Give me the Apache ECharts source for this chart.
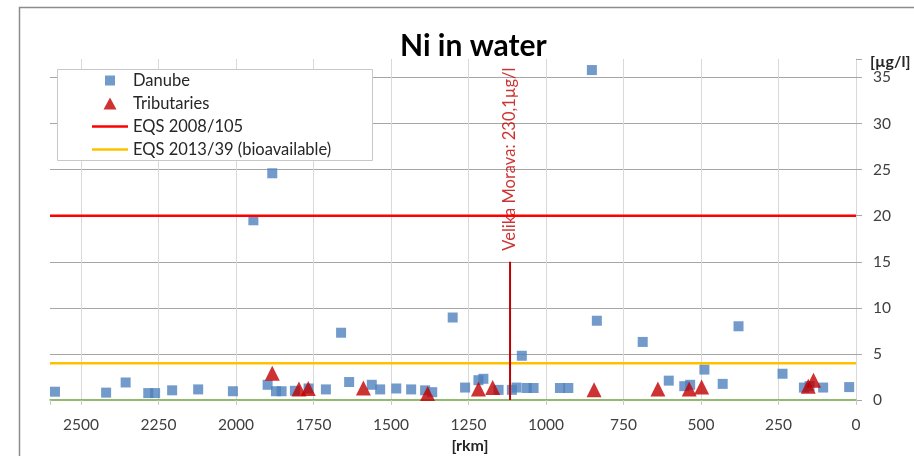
<!DOCTYPE html>
<html>
<head>
  <meta charset="UTF-8">
  <title>Ni in water</title>
  <script src="https://cdn.jsdelivr.net/npm/echarts@6/dist/echarts.min.js"></script>
  <style>
    body { margin: 0; background: #fff; }
    #chart { width: 914px; height: 456px; }
  </style>
</head>
<body>
  <div id="chart"></div>
  <script>
    // Danube samples: [rkm, µg/l]
    const danube = [
      [2584, 0.9], [2419, 0.8], [2356, 1.9], [2283, 0.75], [2261, 0.75],
      [2206, 1.05], [2122, 1.15], [2010, 0.95], [1944, 19.5], [1898, 1.65],
      [1883, 24.6], [1871, 0.95], [1853, 0.95], [1810, 1.0], [1766, 1.25],
      [1710, 1.15], [1661, 7.3], [1635, 1.95], [1562, 1.65], [1535, 1.15],
      [1483, 1.25], [1435, 1.15], [1390, 1.05], [1367, 0.85], [1301, 8.95],
      [1261, 1.35], [1218, 2.15], [1202, 2.3], [1153, 1.1], [1110, 1.1],
      [1095, 1.35], [1078, 4.8], [1062, 1.3], [1040, 1.3], [955, 1.3],
      [928, 1.3], [852, 35.8], [836, 8.6], [688, 6.3], [604, 2.1],
      [554, 1.5], [535, 1.65], [489, 3.3], [430, 1.75], [379, 8.0],
      [237, 2.85], [168, 1.35], [150, 1.5], [106, 1.35], [22, 1.4]
    ];
    // Tributaries: [rkm, µg/l]
    const tributaries = [
      [1883, 2.9], [1797, 1.2], [1767, 1.25], [1589, 1.3], [1382, 0.7],
      [1218, 1.2], [1172, 1.35], [845, 1.1], [639, 1.2], [538, 1.2],
      [498, 1.4], [154, 1.5], [137, 2.15]
    ];
    const eqs2008 = 20;
    const eqs2013 = 4;
    const rkmRange = [0, 2600];
    // Velika Morava mouth, off-scale value shown as a marker line
    const morava = { rkm: 1116, top: 15, text: 'Velika Morava: 230,1µg/l' };

    const font = 'Lato, "Open Sans", sans-serif';
    // legend icons in a 36x12 box (the extra moveTo points fix the box size)
    const iconSquare = 'path://M0,0M36,12M13,1h10v10h-10z';
    const iconTriangle = 'path://M0,0M36,12M11.5,12L18,0L24.5,12z';
    const iconLine = 'path://M0,0M36,12M0,4.75h36v2.5h-36z';

    const chart = echarts.init(document.getElementById('chart'));

    chart.setOption({
      animation: false,
      textStyle: { fontFamily: font },
      title: {
        text: 'Ni in water',
        left: 395, top: 26,
        textStyle: { fontSize: 30, fontWeight: 'bold', color: '#000', fontFamily: font }
      },
      graphic: [
        { type: 'rect', z: -10, shape: { x: 19.5, y: 7.5, width: 1000, height: 1000 },
          style: { fill: 'none', stroke: '#8c8c8c', lineWidth: 1.5 } },
        { type: 'rect', z: 5, shape: { x: 57.5, y: 69.5, width: 315, height: 91 },
          style: { fill: '#fff', stroke: '#c8c8c8', lineWidth: 1 } }
      ],
      legend: {
        orient: 'vertical',
        left: 87, top: 67,
        z: 10,
        itemWidth: 36, itemHeight: 12, itemGap: 6,
        textStyle: { fontSize: 16.5, color: '#262626', fontFamily: font },
        data: [
          { name: 'Danube', icon: iconSquare },
          { name: 'Tributaries', icon: iconTriangle },
          { name: 'EQS 2008/105', icon: iconLine },
          { name: 'EQS 2013/39 (bioavailable)', icon: iconLine }
        ]
      },
      grid: { left: 50, right: 58, top: 59, bottom: 56, outerBoundsMode: 'none' },
      xAxis: {
        type: 'value',
        min: rkmRange[0], max: rkmRange[1], interval: 250,
        inverse: true,
        name: '[rkm]', nameLocation: 'middle', nameGap: 37,
        nameTextStyle: { fontSize: 16, fontWeight: 'bold', color: '#262626', padding: [0, 0, 0, 34] },
        axisLine: { lineStyle: { color: '#6fa33f', width: 1.5 } },
        axisTick: { show: true, length: 5, lineStyle: { color: '#c8c8c8' } },
        axisLabel: { fontSize: 15.5, color: '#404040', margin: 17,
          formatter: v => (v % 250 === 0 ? v : '') },
        splitLine: { show: true, lineStyle: { color: [
          '#d9d9d9', '#d9d9d9', '#d9d9d9', '#d9d9d9', '#d9d9d9', '#d9d9d9',
          '#d9d9d9', '#d9d9d9', '#d9d9d9', '#d9d9d9', '#d9d9d9', 'rgba(0,0,0,0)'] } }
      },
      yAxis: {
        type: 'value',
        position: 'right',
        min: 0, max: 37, interval: 5,
        name: '[µg/l]', nameLocation: 'end', nameGap: -3,
        nameTextStyle: { fontSize: 16, fontWeight: 'bold', color: '#262626',
          align: 'left', verticalAlign: 'middle', padding: [0, 0, 0, 14] },
        axisLine: { show: true, lineStyle: { color: '#d9d9d9' } },
        axisTick: { show: true, length: 6, lineStyle: { color: '#a6a6a6' } },
        axisLabel: { fontSize: 15.5, color: '#404040', margin: 17,
          formatter: v => (v % 5 === 0 ? v : '') },
        splitLine: { lineStyle: { color: [
          'rgba(0,0,0,0)', '#a6a6a6', '#a6a6a6', '#a6a6a6', '#a6a6a6',
          '#a6a6a6', '#a6a6a6', '#a6a6a6', 'rgba(0,0,0,0)'] } }
      },
      series: [
        {
          name: 'EQS 2008/105', type: 'line', symbol: 'none',
          color: '#ff0000', lineStyle: { width: 2.5 },
          data: rkmRange.map(r => [r, eqs2008])
        },
        {
          name: 'EQS 2013/39 (bioavailable)', type: 'line', symbol: 'none',
          color: '#ffc000', lineStyle: { width: 2.5 },
          data: rkmRange.map(r => [r, eqs2013])
        },
        {
          name: 'Velika Morava', type: 'line', symbol: 'none',
          color: '#c00000', lineStyle: { width: 2 },
          data: [[morava.rkm, 0], [morava.rkm, morava.top]]
        },
        {
          name: 'Velika Morava label', type: 'scatter', symbolSize: 0,
          data: [[morava.rkm, morava.top]],
          label: {
            show: true, formatter: morava.text, position: 'top', distance: 11,
            rotate: 90, align: 'left', verticalAlign: 'middle',
            fontSize: 16.5, color: '#c00000', fontFamily: font
          }
        },
        {
          name: 'Danube', type: 'scatter', symbol: 'rect', symbolSize: 10,
          itemStyle: { color: '#4f81bd' },
          data: danube
        },
        {
          name: 'Tributaries', type: 'scatter', symbol: 'triangle', symbolSize: 15,
          itemStyle: { color: '#c00000' },
          data: tributaries
        }
      ]
    });
  </script>
</body>
</html>
